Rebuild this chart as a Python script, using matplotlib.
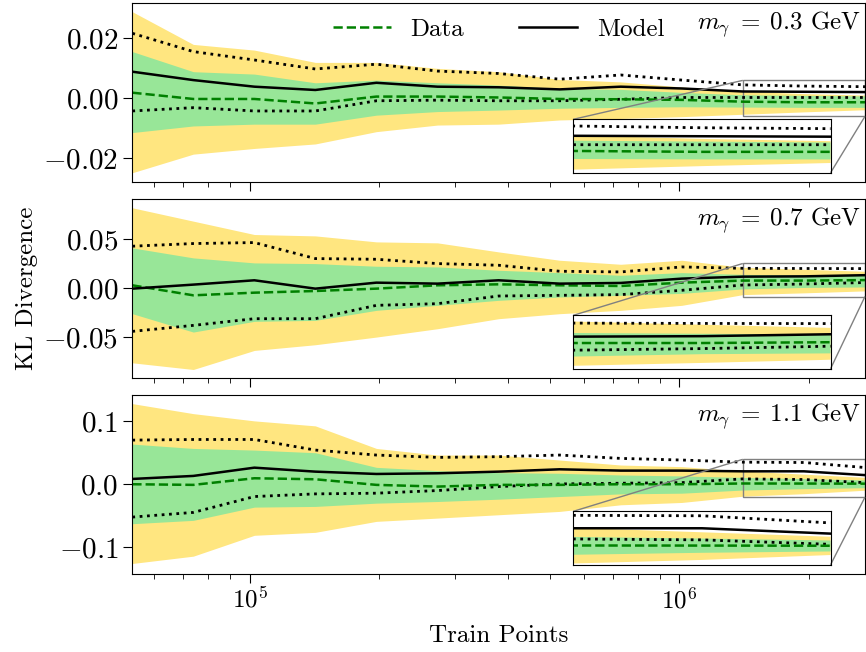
import matplotlib
matplotlib.use("Agg")
import matplotlib.pyplot as plt
from mpl_toolkits.axes_grid1.inset_locator import mark_inset

plt.rcParams['font.family'] = 'serif'
plt.rcParams['font.serif'] = ['cmr10']
plt.rcParams['mathtext.fontset'] = 'cm'
plt.rcParams['axes.formatter.use_mathtext'] = True
plt.rcParams['font.size'] = 18

# train points (x axis, log scale)
train_points = [5.33e4, 7.39e4, 1.025e5, 1.421e5, 1.971e5, 2.735e5, 3.794e5,
                5.263e5, 7.30e5, 1.0125e6, 1.404e6, 1.948e6, 2.702e6]

masses = ["0.3", "0.7", "1.1"]

# m = 0.3 GeV
p1_yellow_hi = [0.0289, 0.0180, 0.0161, 0.0120, 0.0120, 0.0100, 0.0089, 0.0063, 0.0055, 0.0038, 0.0024, 0.0016, 0.0011]
p1_yellow_lo = [-0.0248, -0.0186, -0.0167, -0.0152, -0.0111, -0.0089, -0.0086, -0.0072, -0.0067, -0.0061, -0.0053, -0.0045, -0.0038]
p1_green_hi = [0.0156, 0.0089, 0.0081, 0.0052, 0.0061, 0.0052, 0.0044, 0.0033, 0.0030, 0.0020, 0.0012, 0.0010, 0.0008]
p1_green_lo = [-0.0114, -0.0092, -0.0086, -0.0086, -0.0056, -0.0044, -0.0039, -0.0033, -0.0030, -0.0028, -0.0029, -0.0030, -0.0030]
p1_data = [0.0019, -0.0002, -0.0002, -0.0017, 0.0006, 0.0006, 0.0003, -0.0002, -0.0003, -0.0005, -0.0011, -0.0013, -0.0013]
p1_model = [0.0089, 0.0061, 0.0039, 0.0028, 0.0052, 0.0039, 0.0037, 0.0030, 0.0039, 0.0033, 0.0023, 0.0022, 0.0021]
p1_dot_hi = [0.0217, 0.0156, 0.0128, 0.0098, 0.0114, 0.0091, 0.0083, 0.0064, 0.0078, 0.0061, 0.0045, 0.0041, 0.0039]
p1_dot_lo = [-0.0042, -0.0031, -0.0042, -0.0042, -0.0008, -0.0006, -0.0008, -0.0008, -0.0003, 0.0003, 0.0003, 0.0003, 0.0003]

# m = 0.7 GeV
p2_yellow_hi = [0.0816, 0.0680, 0.0544, 0.0530, 0.0469, 0.0459, 0.0367, 0.0282, 0.0241, 0.0282, 0.0210, 0.0190, 0.0170]
p2_yellow_lo = [-0.0762, -0.0830, -0.0636, -0.0578, -0.0500, -0.0415, -0.0313, -0.0262, -0.0228, -0.0177, -0.0068, -0.0050, -0.0030]
p2_green_hi = [0.0408, 0.0306, 0.0255, 0.0248, 0.0221, 0.0214, 0.0180, 0.0156, 0.0129, 0.0156, 0.0138, 0.0133, 0.0128]
p2_green_lo = [-0.0262, -0.0449, -0.0340, -0.0330, -0.0228, -0.0177, -0.0126, -0.0092, -0.0075, -0.0055, -0.0010, 0.0005, 0.0010]
p2_data = [0.0027, -0.0075, -0.0048, -0.0031, -0.0007, 0.0027, 0.0037, 0.0027, 0.0020, 0.0054, 0.0075, 0.0075, 0.0080]
p2_model = [-0.0007, 0.0034, 0.0078, -0.0007, 0.0054, 0.0044, 0.0078, 0.0044, 0.0051, 0.0095, 0.0115, 0.0118, 0.0130]
p2_dot_hi = [0.0425, 0.0452, 0.0462, 0.0299, 0.0292, 0.0248, 0.0231, 0.0170, 0.0163, 0.0214, 0.0200, 0.0198, 0.0197]
p2_dot_lo = [-0.0442, -0.0381, -0.0313, -0.0313, -0.0177, -0.0160, -0.0082, -0.0075, -0.0068, -0.0024, 0.0030, 0.0040, 0.0055]

# m = 1.1 GeV
p3_yellow_hi = [0.1279, 0.1120, 0.1005, 0.0926, 0.0568, 0.0463, 0.0463, 0.0384, 0.0305, 0.0279, 0.0210, 0.0160, 0.0110]
p3_yellow_lo = [-0.1257, -0.1141, -0.0810, -0.0763, -0.0589, -0.0537, -0.0484, -0.0431, -0.0326, -0.0289, -0.0190, -0.0150, -0.0095]
p3_green_hi = [0.0637, 0.0568, 0.0542, 0.0500, 0.0268, 0.0216, 0.0184, 0.0174, 0.0147, 0.0132, 0.0108, 0.0090, 0.0068]
p3_green_lo = [-0.0626, -0.0573, -0.0363, -0.0352, -0.0300, -0.0274, -0.0237, -0.0195, -0.0153, -0.0142, -0.0092, -0.0070, -0.0055]
p3_data = [0.0000, -0.0010, 0.0095, 0.0079, -0.0010, -0.0037, -0.0010, -0.0010, 0.0000, 0.0000, 0.0012, 0.0011, 0.0009]
p3_model = [0.0084, 0.0132, 0.0263, 0.0200, 0.0163, 0.0174, 0.0200, 0.0237, 0.0216, 0.0216, 0.0205, 0.0205, 0.0145]
p3_dot_hi = [0.0700, 0.0710, 0.0710, 0.0542, 0.0463, 0.0426, 0.0437, 0.0463, 0.0410, 0.0384, 0.0350, 0.0345, 0.0265]
p3_dot_lo = [-0.0521, -0.0447, -0.0195, -0.0153, -0.0142, -0.0100, -0.0037, 0.0005, 0.0016, 0.0026, 0.0085, 0.0075, 0.0025]

panels = [
    (p1_yellow_hi, p1_yellow_lo, p1_green_hi, p1_green_lo, p1_data, p1_model, p1_dot_hi, p1_dot_lo),
    (p2_yellow_hi, p2_yellow_lo, p2_green_hi, p2_green_lo, p2_data, p2_model, p2_dot_hi, p2_dot_lo),
    (p3_yellow_hi, p3_yellow_lo, p3_green_hi, p3_green_lo, p3_data, p3_model, p3_dot_hi, p3_dot_lo),
]
ylims = [(-0.0278, 0.0317), (-0.0914, 0.0902), (-0.142, 0.141)]
yticks = [[-0.02, 0.0, 0.02], [-0.05, 0.0, 0.05], [-0.1, 0.0, 0.1]]
inset_ylims = [(-0.006, 0.006), (-0.0087, 0.0249), (-0.0205, 0.0395)]

yellow = '#ffe680'
green = '#98e698'


def draw(ax, d, label=False):
    yh, yl, gh, gl, data, model, dh, dl = d
    ax.fill_between(train_points, yl, yh, color=yellow, lw=0)
    ax.fill_between(train_points, gl, gh, color=green, lw=0)
    ax.plot(train_points, dh, ':', color='black', lw=2)
    ax.plot(train_points, dl, ':', color='black', lw=2)
    ax.plot(train_points, data, '--', color='green', lw=1.8, label='Data' if label else None)
    ax.plot(train_points, model, '-', color='black', lw=1.8, label='Model' if label else None)


fig = plt.figure(figsize=(8.66, 6.52), dpi=100)
axes = fig.subplots(3, 1, sharex=True)
fig.subplots_adjust(left=0.1528, right=0.9988, top=0.9949, bottom=0.120, hspace=0.0987)

for i, ax in enumerate(axes):
    draw(ax, panels[i], label=(i == 0))
    ax.set_xscale('log')
    ax.set_xlim(train_points[0], train_points[-1])
    ax.set_ylim(*ylims[i])
    ax.set_yticks(yticks[i])
    ax.tick_params(which='major', length=6.5)
    ax.tick_params(which='minor', length=3.5)
    ax.tick_params(axis='y', labelsize=21)
    ax.text(0.995, 0.965, r'$m_\gamma\;=\;%s$ GeV' % masses[i], transform=ax.transAxes,
            ha='right', va='top')

    axins = ax.inset_axes([0.602, 0.05, 0.351, 0.30])
    draw(axins, panels[i])
    axins.set_xscale('log')
    axins.set_xlim(train_points[10], train_points[-1])
    axins.set_ylim(*inset_ylims[i])
    axins.set_xticks([])
    axins.set_yticks([])
    axins.minorticks_off()
    mark_inset(ax, axins, loc1=2, loc2=4, fc='none', ec='0.5')

axes[0].legend(loc='upper center', ncol=2, frameon=False, handlelength=2.3,
               columnspacing=2.2, borderaxespad=0.2)
axes[1].set_ylabel('KL Divergence')
axes[2].set_xlabel('Train Points', labelpad=8)

fig.savefig('out.png', dpi=100)
